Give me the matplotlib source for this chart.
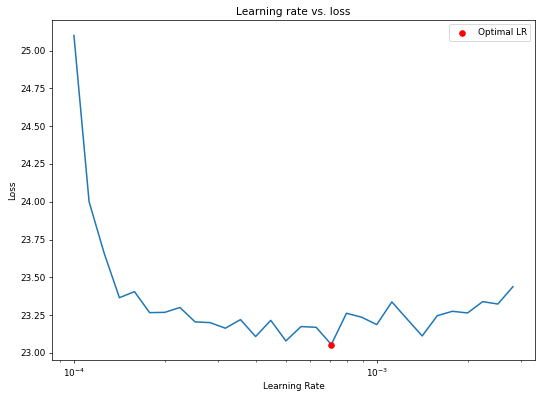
import numpy as np
import matplotlib
matplotlib.use("Agg")
import matplotlib.pyplot as plt

# learning rates tried (log spaced, 0.05 decade steps from 1e-4)
lrs = [1.000e-4, 1.122e-4, 1.259e-4, 1.413e-4, 1.585e-4, 1.778e-4,
       1.995e-4, 2.239e-4, 2.512e-4, 2.818e-4, 3.162e-4, 3.548e-4,
       3.981e-4, 4.467e-4, 5.012e-4, 5.623e-4, 6.310e-4, 7.079e-4,
       7.943e-4, 8.913e-4, 1.000e-3, 1.122e-3, 1.259e-3, 1.413e-3,
       1.585e-3, 1.778e-3, 1.995e-3, 2.239e-3, 2.512e-3, 2.818e-3]
losses = [25.10, 24.00, 23.658, 23.365, 23.405, 23.266,
          23.268, 23.300, 23.205, 23.200, 23.163, 23.220,
          23.108, 23.215, 23.079, 23.174, 23.169, 23.055,
          23.262, 23.236, 23.187, 23.337, 23.224, 23.112,
          23.246, 23.275, 23.264, 23.339, 23.323, 23.438]

# best lr = point with the lowest loss
best = int(np.argmin(losses))

fig, ax = plt.subplots(figsize=(536 / 64, 393 / 64), dpi=64)
ax.plot(lrs, losses, linewidth=1.7)
ax.scatter(lrs[best], losses[best], color='red', s=40, label='Optimal LR', zorder=3)
ax.set_xscale('log')
ax.set_yticks([23.00, 23.25, 23.50, 23.75, 24.00, 24.25, 24.50, 24.75, 25.00])
ax.set_yticklabels(['23.00', '23.25', '23.50', '23.75', '24.00',
                    '24.25', '24.50', '24.75', '25.00'])
ax.set_xlabel('Learning Rate')
ax.set_ylabel('Loss')
ax.set_title('Learning rate vs. loss')
ax.legend(loc='upper right')

plt.subplots_adjust(left=0.097, right=0.998, top=0.949, bottom=0.084)
plt.savefig('out.png')
